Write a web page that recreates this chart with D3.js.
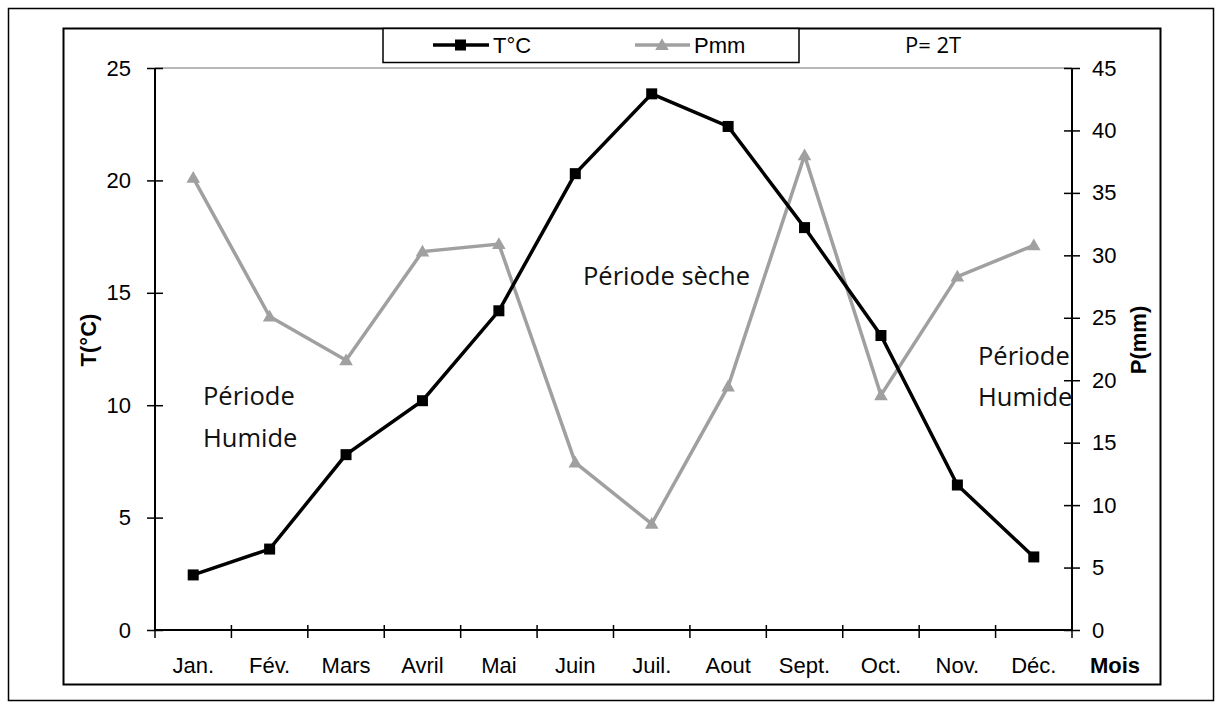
<!DOCTYPE html>
<html>
<head>
<meta charset="utf-8">
<script src="https://cdnjs.cloudflare.com/ajax/libs/d3/7.8.5/d3.min.js"></script>
<style>
	body{margin:0;background:#fff;}
	svg text{font-family:"Liberation Sans", Arial, sans-serif;}
	.note{font-family:"Open Sans", sans-serif !important;}
</style>
</head>
<body>
<div id="canvas"></div>
<script>
var months = ["Jan.", "Fév.", "Mars", "Avril", "Mai", "Juin", "Juil.", "Aout", "Sept.", "Oct.", "Nov.", "Déc."];
var temperature = [2.45, 3.6, 7.8, 10.2, 14.2, 20.3, 23.85, 22.4, 17.9, 13.1, 6.45, 3.25];
var precipitation = [36.2, 25.1, 21.6, 30.3, 30.9, 13.4, 8.5, 19.5, 38.0, 18.8, 28.3, 30.8];
var tTicks = [0, 5, 10, 15, 20, 25];
var pTicks = [0, 5, 10, 15, 20, 25, 30, 35, 40, 45];

var w = 1224, h = 709;
var svg = d3.select("#canvas").append("svg")
	.attr("width", w)
	.attr("height", h);

// outer frame + inner frame
svg.append("rect").attr("x", 8.5).attr("y", 8.5).attr("width", 1205).attr("height", 692)
	.attr("fill", "none").attr("stroke", "#000").attr("stroke-width", 1.5);
svg.append("rect").attr("x", 63.5).attr("y", 28.5).attr("width", 1097).attr("height", 656)
	.attr("fill", "none").attr("stroke", "#000").attr("stroke-width", 2);

var x0 = 155, x1 = 1072, yTop = 68, yBot = 630;

var xScale = d3.scaleBand().domain(months).range([x0, x1]);
var yT = d3.scaleLinear().domain([0, 25]).range([yBot, yTop]);
var yP = d3.scaleLinear().domain([0, 45]).range([yBot, yTop]);

// plot area top border
svg.append("line").attr("x1", x0).attr("x2", x1).attr("y1", yTop).attr("y2", yTop)
	.attr("stroke", "#a0a0a0").attr("stroke-width", 1.5);

// left axis
var left = svg.append("g").attr("transform", "translate(" + x0 + ",0)")
	.call(d3.axisLeft(yT).tickValues(tTicks).tickSize(8).tickPadding(16));
left.selectAll(".tick line").attr("x2", -8).attr("x1", 8).attr("stroke-width", 1.5);
left.select(".domain").attr("d", "M0," + yTop + "V" + yBot).attr("stroke-width", 2);
left.selectAll("text").attr("font-size", 22).attr("fill", "#000");

// right axis
var right = svg.append("g").attr("transform", "translate(" + x1 + ",0)")
	.call(d3.axisRight(yP).tickValues(pTicks).tickSize(8).tickPadding(12));
right.selectAll(".tick line").attr("x1", -8).attr("x2", 8).attr("stroke-width", 1.5);
right.select(".domain").attr("d", "M0," + yTop + "V" + yBot).attr("stroke-width", 2);
right.selectAll("text").attr("font-size", 22).attr("fill", "#000");

// x axis
var bottom = svg.append("g").attr("transform", "translate(0," + yBot + ")");
bottom.append("line").attr("x1", x0).attr("x2", x1).attr("stroke", "#000").attr("stroke-width", 2);
var bounds = months.map(function(m){ return xScale(m); }).concat([x1]);
bottom.selectAll(".xt").data(bounds).enter().append("line")
	.attr("x1", function(d){ return d; }).attr("x2", function(d){ return d; })
	.attr("y1", -5).attr("y2", 8).attr("stroke", "#000").attr("stroke-width", 1.5);
bottom.selectAll(".xl").data(months).enter().append("text")
	.attr("x", function(d){ return xScale(d) + xScale.bandwidth() / 2; })
	.attr("y", 43)
	.attr("text-anchor", "middle")
	.attr("font-size", 22)
	.text(function(d){ return d; });
bottom.append("text").attr("x", 1115).attr("y", 43).attr("text-anchor", "middle")
	.attr("font-size", 22).attr("font-weight", "bold").text("Mois");

// axis titles
svg.append("text").attr("transform", "translate(96,340) rotate(-90)")
	.attr("text-anchor", "middle").attr("font-size", 22).attr("font-weight", "bold").text("T(°C)");
svg.append("text").attr("transform", "translate(1146,340) rotate(-90)")
	.attr("text-anchor", "middle").attr("font-size", 22).attr("font-weight", "bold").text("P(mm)");

var cx = function(i){ return xScale(months[i]) + xScale.bandwidth() / 2; };
var tri = d3.symbol().type(d3.symbolTriangle).size(80);

// precipitation
svg.append("path").datum(precipitation)
	.attr("fill", "none").attr("stroke", "#a0a0a0").attr("stroke-width", 3.5)
	.attr("d", d3.line().x(function(d, i){ return cx(i); }).y(function(d){ return yP(d); }));
svg.selectAll(".pm").data(precipitation).enter().append("path")
	.attr("d", tri).attr("fill", "#a0a0a0")
	.attr("transform", function(d, i){ return "translate(" + cx(i) + "," + (yP(d) + 1) + ")"; });

// temperature
svg.append("path").datum(temperature)
	.attr("fill", "none").attr("stroke", "#000").attr("stroke-width", 3.5)
	.attr("d", d3.line().x(function(d, i){ return cx(i); }).y(function(d){ return yT(d); }));
svg.selectAll(".tm").data(temperature).enter().append("rect")
	.attr("x", function(d, i){ return cx(i) - 5.5; })
	.attr("y", function(d){ return yT(d) - 5.5; })
	.attr("width", 11).attr("height", 11).attr("fill", "#000");

// annotations
var notes = [
	{t: "Période", x: 203, y: 405},
	{t: "Humide", x: 203, y: 447},
	{t: "Période sèche", x: 583, y: 285},
	{t: "Période", x: 978, y: 365},
	{t: "Humide", x: 978, y: 406}
];
svg.selectAll(".note").data(notes).enter().append("text")
	.attr("class", "note")
	.attr("x", function(d){ return d.x; })
	.attr("y", function(d){ return d.y; })
	.attr("font-size", 25.5)
	.attr("fill", "#111")
	.text(function(d){ return d.t; });

// legend
var lg = svg.append("g");
lg.append("rect").attr("x", 383).attr("y", 28.5).attr("width", 416).attr("height", 34)
	.attr("fill", "#fff").attr("stroke", "#000").attr("stroke-width", 1.5);
lg.append("line").attr("x1", 433).attr("x2", 489).attr("y1", 45).attr("y2", 45)
	.attr("stroke", "#000").attr("stroke-width", 3.5);
lg.append("rect").attr("x", 455).attr("y", 39.5).attr("width", 11).attr("height", 11).attr("fill", "#000");
lg.append("text").attr("x", 493).attr("y", 53).attr("font-size", 22).text("T°C");
lg.append("line").attr("x1", 635).attr("x2", 690).attr("y1", 45).attr("y2", 45)
	.attr("stroke", "#a0a0a0").attr("stroke-width", 3.5);
lg.append("path").attr("d", tri).attr("fill", "#a0a0a0").attr("transform", "translate(662,46)");
lg.append("text").attr("x", 694).attr("y", 53).attr("font-size", 22).text("Pmm");

svg.append("text").attr("class", "note").attr("x", 905).attr("y", 53)
	.attr("font-size", 22).text("P= 2T");
</script>
</body>
</html>
